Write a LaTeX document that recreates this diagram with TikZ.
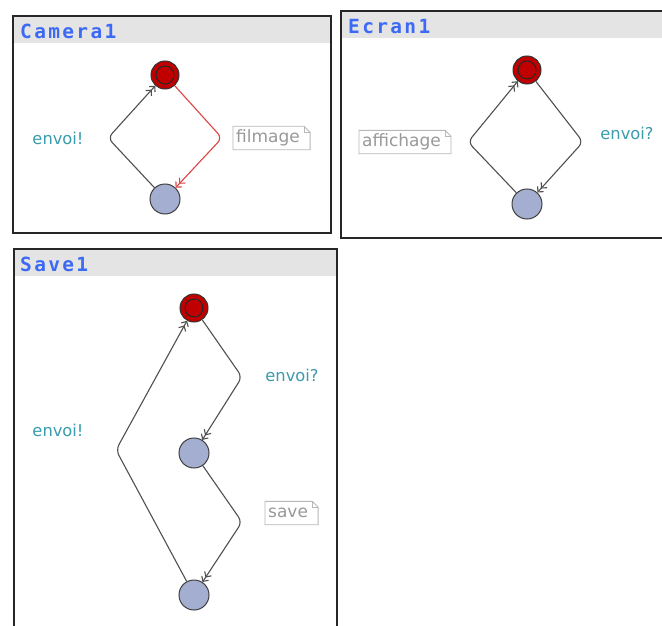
\documentclass[tikz,border=0pt]{standalone}
\usepackage{fontspec}
\setmainfont{DejaVu Sans}
\newfontfamily\titlefont[LetterSpace=12]{DejaVu Sans Mono}
\usetikzlibrary{arrows.meta}
\definecolor{initred}{HTML}{C00000}
\definecolor{statefill}{HTML}{A4AED0}
\definecolor{edgegray}{HTML}{505050}
\definecolor{edgered}{HTML}{DD4444}
\definecolor{labteal}{HTML}{3A9CAC}
\definecolor{notegray}{HTML}{999999}
\definecolor{titleblue}{HTML}{3D6AF5}
\definecolor{headgray}{HTML}{E4E4E4}
\tikzset{
  panel/.style={draw=black!85, line width=1.3pt},
  header/.style={fill=headgray, draw=none},
  ptitle/.style={anchor=west, text=titleblue, font=\titlefont\bfseries\fontsize{19.5}{22}\selectfont, inner sep=0pt},
  initst/.style={circle, draw=black!80, fill=initred, minimum size=28pt, inner sep=0pt, line width=1pt},
  normst/.style={circle, draw=black!75, fill=statefill, minimum size=30pt, inner sep=0pt, line width=1pt},
  trans/.style={draw=edgegray, line width=1.1pt, rounded corners=6pt,
    -{Straight Barb[length=4pt,width=8pt] Straight Barb[length=4pt,width=8pt]}},
  lab/.style={text=labteal, font=\fontsize{16.3}{19}\selectfont, inner sep=0pt},
  note/.style={anchor=west, text=notegray, font=\fontsize{17}{20}\selectfont, inner xsep=3pt, inner ysep=0pt, minimum height=23pt},
  notebox/.style={draw=notegray!70, line width=0.9pt}
}
\begin{document}
\begin{tikzpicture}[x=1pt, y=-1pt]
\useasboundingbox (0,0) rectangle (662,626);
\fill[white] (0,0) rectangle (662,626);
\begin{scope}
\clip (0,0) rectangle (662,626);
% ---------- Camera1 ----------
\fill[header] (13,16) rectangle (331,43);
\draw[panel] (13,16) rectangle (331,233);
\node[ptitle] (t1) at (20,31) {Camera1};
\node[initst] (c1i) at (165,75) {};
\draw[black!85, line width=1pt] (c1i.center) circle (9pt);
\node[normst] (c1b) at (165,199) {};
\coordinate (c1l) at (108,138);
\coordinate (c1r) at (222,138);
\draw[trans] (c1b) -- (c1l) -- (c1i);
\draw[trans, draw=edgered] (c1i) -- (c1r) -- (c1b);
\node[lab] (l1) at (58,138) {envoi!};
\node[note] (n1) at (233,138) {filmage};
\draw[notebox] (n1.south west) -- (n1.north west) -- ([xshift=1pt]n1.north east) -- ([xshift=7pt,yshift=-6pt]n1.north east) -- ([xshift=7pt]n1.south east) -- cycle;
\draw[notebox] ([xshift=1pt]n1.north east) |- ([xshift=7pt,yshift=-6pt]n1.north east);
% ---------- Ecran1 ----------
\fill[header] (341,11) rectangle (672,38);
\draw[panel] (341,11) rectangle (672,238);
\node[ptitle] (t2) at (348,27) {Ecran1};
\node[initst] (c2i) at (527,70) {};
\draw[black!85, line width=1pt] (c2i.center) circle (9pt);
\node[normst] (c2b) at (527,204) {};
\coordinate (c2l) at (468,142);
\coordinate (c2r) at (583,142);
\draw[trans] (c2b) -- (c2l) -- (c2i);
\draw[trans] (c2i) -- (c2r) -- (c2b);
\node[lab] (l2) at (627,133) {envoi?};
\node[note] (n2) at (359,142) {affichage};
\draw[notebox] (n2.south west) -- (n2.north west) -- ([xshift=1pt]n2.north east) -- ([xshift=7pt,yshift=-6pt]n2.north east) -- ([xshift=7pt]n2.south east) -- cycle;
\draw[notebox] ([xshift=1pt]n2.north east) |- ([xshift=7pt,yshift=-6pt]n2.north east);
% ---------- Save1 ----------
\fill[header] (14,249) rectangle (337,276);
\draw[panel] (14,249) rectangle (337,640);
\node[ptitle] (t3) at (20,264) {Save1};
\node[initst] (c3i) at (194,308) {};
\draw[black!85, line width=1pt] (c3i.center) circle (9pt);
\node[normst] (c3m) at (194,453) {};
\node[normst] (c3b) at (194,595) {};
\coordinate (c3r1) at (242,377);
\coordinate (c3r2) at (242,522);
\coordinate (c3l) at (116,450);
\draw[trans] (c3i) -- (c3r1) -- (c3m);
\draw[trans] (c3m) -- (c3r2) -- (c3b);
\draw[trans] (c3b) -- (c3l) -- (c3i);
\node[lab] (l3) at (292,375) {envoi?};
\node[lab] (l4) at (58,430) {envoi!};
\node[note] (n3) at (265,513) {save};
\draw[notebox] (n3.south west) -- (n3.north west) -- ([xshift=1pt]n3.north east) -- ([xshift=7pt,yshift=-6pt]n3.north east) -- ([xshift=7pt]n3.south east) -- cycle;
\draw[notebox] ([xshift=1pt]n3.north east) |- ([xshift=7pt,yshift=-6pt]n3.north east);
\end{scope}
\end{tikzpicture}
\end{document}
